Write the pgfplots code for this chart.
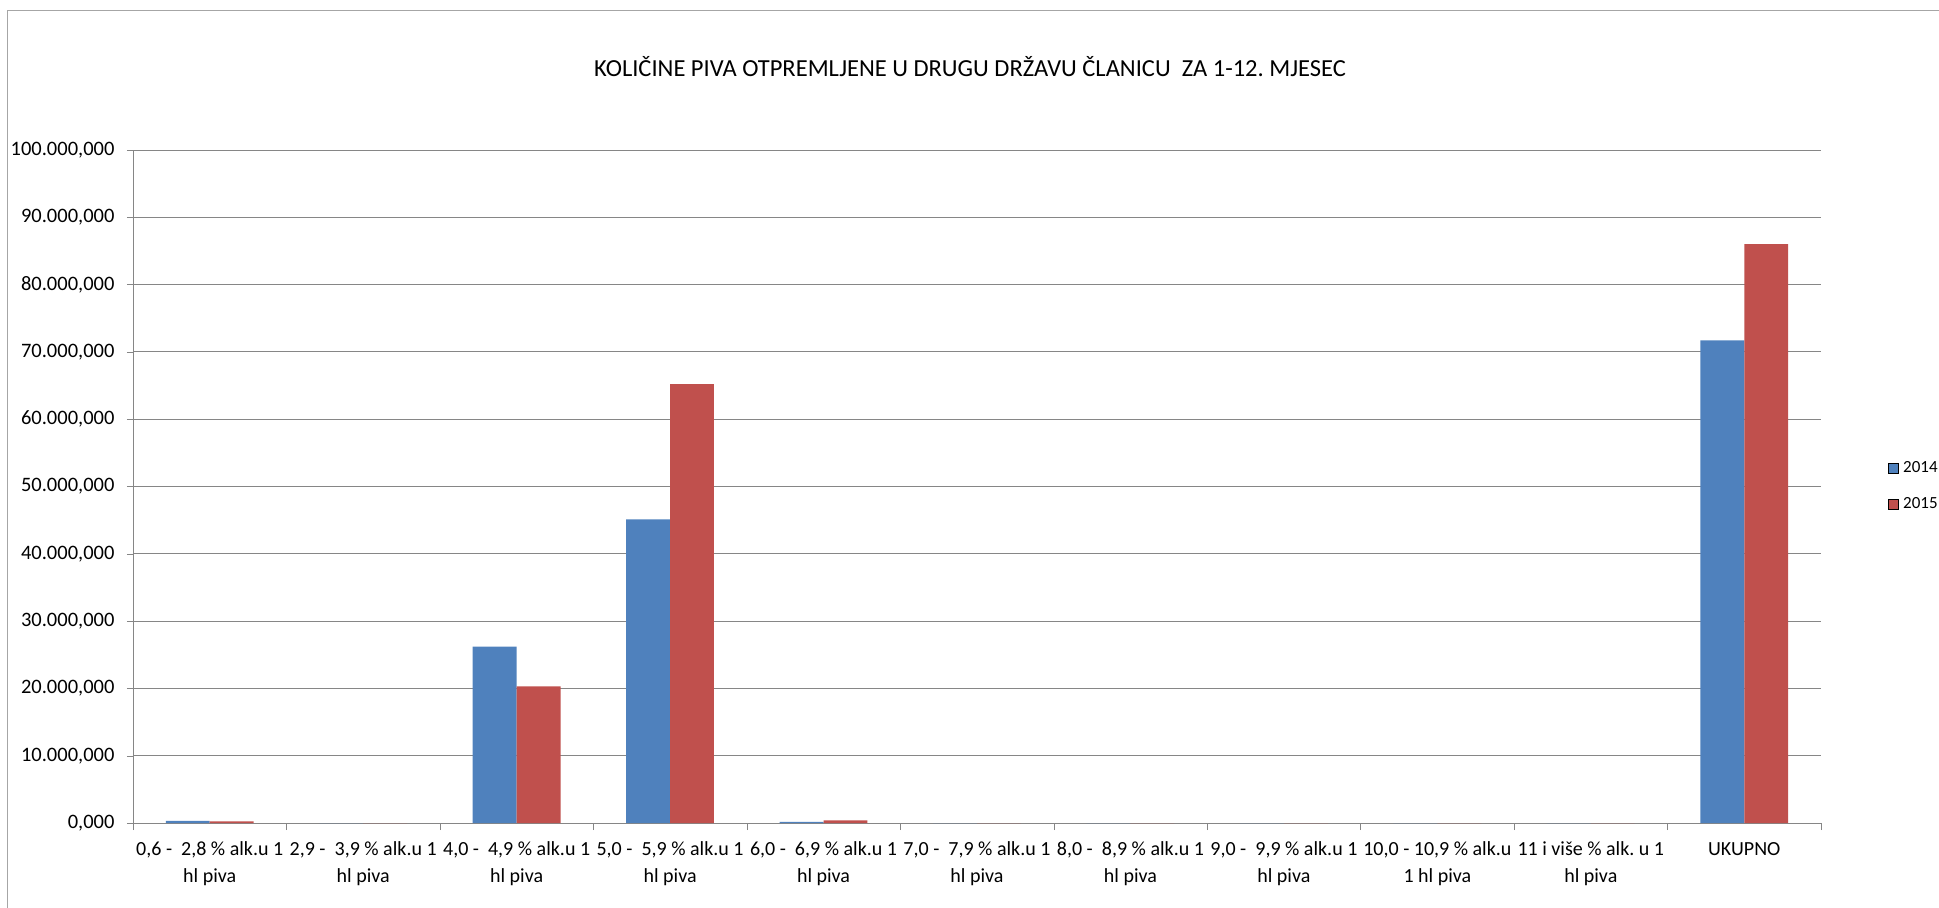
\documentclass[border=0pt]{standalone}
\usepackage{pgfplots}
\pgfplotsset{compat=1.18}
\usepackage{fontspec}
\setmainfont{Carlito}
\frenchspacing
\definecolor{bar14}{HTML}{4F81BD}
\definecolor{bar15}{HTML}{C0504D}
\definecolor{gridc}{HTML}{868686}
\definecolor{framec}{HTML}{A6A6A6}
\begin{document}
\begin{tikzpicture}
% 1 px of the reference = 0.5pt
\useasboundingbox (0pt,0pt) rectangle (969.5pt,-454pt);
\draw[framec] (3.5pt,-454pt) -- (3.5pt,-5pt) -- (969.5pt,-5pt);
\node[anchor=base, font=\fontsize{12.25}{15}\selectfont] at (485pt,-38.5pt)
  {KOLIČINE PIVA OTPREMLJENE U DRUGU DRŽAVU ČLANICU \ ZA 1-12. MJESEC};
\begin{axis}[
    at={(66.5pt,-411.5pt)}, anchor=south west,
    scale only axis, width=844pt, height=336.5pt,
    xmin=-0.5, xmax=10.5, ymin=0, ymax=100000,
    enlargelimits=false,
    ybar=0pt, bar width=21.95pt,
    axis x line*=bottom, axis y line*=left,
    axis line style={-, draw=gridc},
    ytick={0,10000,...,100000}, scaled y ticks=false,
    ymajorgrids, grid style={draw=gridc},
    tick align=outside,
    major tick length=3pt, minor tick length=3.5pt,
    major x tick style={draw=none},
    minor x tick style={draw=gridc},
    ytick style={draw=gridc},
    xtick={0,1,2,3,4,5,6,7,8,9,10},
    minor xtick={-0.5,0.5,1.5,2.5,3.5,4.5,5.5,6.5,7.5,8.5,9.5,10.5},
    xticklabels={
      {0,6 - \ 2,8 \% alk.u 1\\hl piva},
      {2,9 - \ 3,9 \% alk.u 1\\hl piva},
      {4,0 - \ 4,9 \% alk.u 1\\hl piva},
      {5,0 - \ 5,9 \% alk.u 1\\hl piva},
      {6,0 - \ 6,9 \% alk.u 1\\hl piva},
      {7,0 - \ 7,9 \% alk.u 1\\hl piva},
      {8,0 - \ 8,9 \% alk.u 1\\hl piva},
      {9,0 - \ 9,9 \% alk.u 1\\hl piva},
      {10,0 - 10,9 \% alk.u\\1 hl piva},
      {11 i više \% alk. u 1\\hl piva},
      {UKUPNO}},
    x tick label style={align=center, anchor=north, yshift=-3pt,
      font=\fontsize{10}{13.5}\selectfont},
    y tick label style={/pgf/number format/.cd, fixed, fixed zerofill,
      precision=3, 1000 sep={.}, dec sep={,}, assume math mode=true,
      /tikz/.cd, font=\fontsize{10.25}{12}\selectfont, xshift=-2.75pt},
    legend style={at={(1.0397,0.5)}, anchor=west, draw=none, fill=none,
      inner sep=0pt, row sep=7pt, font=\fontsize{8.5}{10}\selectfont,
      nodes={inner sep=2pt}},
    legend cell align=left,
    legend image code/.code={\draw[#1] (0pt,-2.5pt) rectangle (5pt,2.5pt);},
]
\addplot[fill=bar14, draw=none] coordinates {
  (0,300) (1,0) (2,26200) (3,45100) (4,150) (5,0) (6,0) (7,0) (8,0) (9,0) (10,71700)};
\addplot[fill=bar15, draw=none] coordinates {
  (0,250) (1,0) (2,20300) (3,65200) (4,400) (5,0) (6,0) (7,0) (8,0) (9,0) (10,86000)};
\legend{2014,2015}
\end{axis}
\end{tikzpicture}
\end{document}
